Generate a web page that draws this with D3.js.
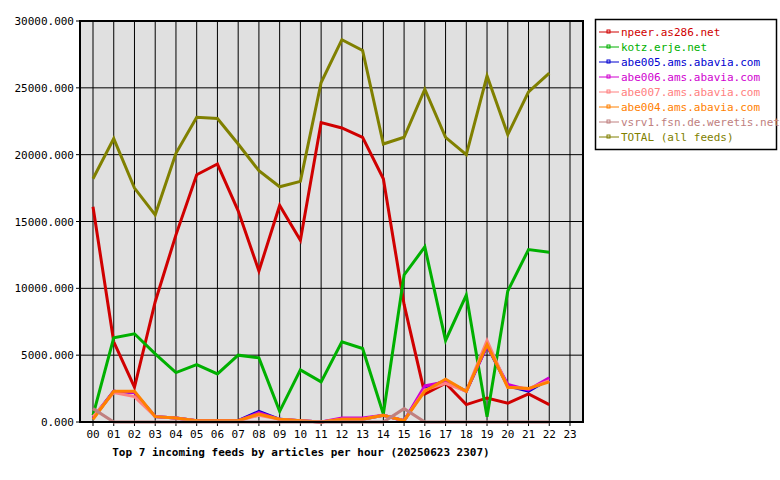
<!DOCTYPE html>
<html><head><meta charset="utf-8">
<script src="https://cdn.jsdelivr.net/npm/d3@7"></script>
<style>body{margin:0;background:#fff}text{font-family:"DejaVu Sans Mono",monospace;font-size:11px}</style>
</head><body><svg id="c" width="780" height="480"></svg>
<script>
const hours = d3.range(24).map(h => String(h).padStart(2, "0"));
const names = ["npeer.as286.net","kotz.erje.net","abe005.ams.abavia.com","abe006.ams.abavia.com","abe007.ams.abavia.com","abe004.ams.abavia.com","vsrv1.fsn.de.weretis.net","TOTAL (all feeds)"];
const colors = ["#d00000","#00b000","#0000d0","#d000d0","#ff8080","#ff8000","#c08080","#808000"];
const npeer = [16100,6000,2600,9000,14000,18500,19300,15800,11300,16200,13600,22400,22000,21300,18200,8800,2100,2900,1300,1800,1400,2100,1300];
const kotz = [500,6300,6600,5100,3700,4300,3600,5000,4800,800,3900,3000,6000,5500,600,11000,13100,6100,9500,400,9800,12900,12700];
const abe005 = [300,2300,2200,400,300,100,100,100,800,200,100,0,200,200,500,100,2500,3100,2300,5700,2700,2300,3200];
const abe006 = [300,2300,2200,400,300,100,100,100,700,200,100,0,300,300,500,100,2700,3000,2300,5700,2800,2400,3300];
const abe007 = [400,2200,1900,400,300,100,100,100,500,200,100,0,200,200,500,100,2400,2900,2300,6100,2600,2500,3100];
const abe004 = [200,2300,2300,400,300,100,100,100,600,200,100,0,200,200,500,100,2300,3200,2300,5800,2600,2500,3000];
const vsrv1 = [1000,0,0,0,0,0,0,0,0,0,0,0,0,0,0,1000,0,0,0,0,0,0,0];
const total = [18200,21200,17500,15500,20100,22800,22700,20800,18800,17600,18000,25400,28600,27800,20800,21300,24900,21300,20000,25900,21500,24700,26100];
const series = [npeer,kotz,abe005,abe006,abe007,abe004,vsrv1,total];
const yTicks = d3.range(0, 30001, 5000);

const svg = d3.select("#c");
const L = 80, R = 583, T = 21, B = 422;
const x = d3.scalePoint().domain(hours).range([93, 570]);
const y = d3.scaleLinear().domain([0, 30000]).range([B, T]);

svg.append("rect").attr("x", L).attr("y", T).attr("width", R - L).attr("height", B - T).attr("fill", "#e0e0e0");
svg.selectAll(".vg").data(hours).join("line").attr("x1", d => x(d)).attr("x2", d => x(d)).attr("y1", T).attr("y2", B).attr("stroke", "#000");
svg.selectAll(".hg").data(yTicks).join("line").attr("x1", L - 4).attr("x2", R).attr("y1", d => y(d)).attr("y2", d => y(d)).attr("stroke", "#000");
svg.selectAll(".yl").data(yTicks).join("text").attr("x", L - 6).attr("y", d => y(d) + 4).attr("text-anchor", "end").text(d => d.toFixed(3));
svg.selectAll(".xl").data(hours).join("text").attr("x", d => x(d)).attr("y", B + 16).attr("text-anchor", "middle").text(d => d);
svg.selectAll(".xt").data(hours).join("line").attr("x1", d => x(d)).attr("x2", d => x(d)).attr("y1", B).attr("y2", B + 4).attr("stroke", "#000");

const line = d3.line().x((d, i) => x(hours[i])).y(d => y(d));
series.forEach((s, k) => svg.append("path").attr("d", line(s)).attr("fill", "none").attr("stroke", colors[k]).attr("stroke-width", 3).attr("stroke-linejoin", "miter"));
svg.append("rect").attr("x", L).attr("y", T).attr("width", R - L).attr("height", B - T).attr("fill", "none").attr("stroke", "#000").attr("stroke-width", 2);

svg.append("text").attr("x", 301).attr("y", 456).attr("text-anchor", "middle").attr("font-weight", "bold").text("Top 7 incoming feeds by articles per hour (20250623 2307)");

svg.append("rect").attr("x", 595.5).attr("y", 19.5).attr("width", 181).attr("height", 130).attr("fill", "#fff").attr("stroke", "#000").attr("stroke-width", 1.5);
names.forEach((n, k) => {
  const yy = 33 + k * 15;
  const g = svg.append("g");
  g.append("line").attr("x1", 599).attr("x2", 619).attr("y1", yy - 1).attr("y2", yy - 1).attr("stroke", colors[k]);
  g.append("rect").attr("x", 607).attr("y", yy - 3).attr("width", 3).attr("height", 3).attr("fill", "none").attr("stroke", colors[k]);
  g.append("text").attr("x", 621).attr("y", yy + 3).attr("fill", colors[k]).text(n);
});
</script></body></html>
